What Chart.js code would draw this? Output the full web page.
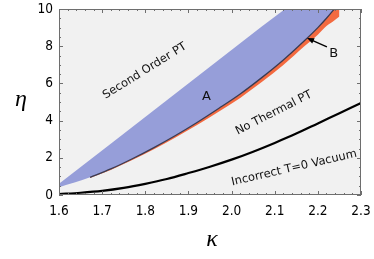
<!DOCTYPE html>
<html><head><meta charset="utf-8">
<script src="https://cdn.jsdelivr.net/npm/chart.js@4"></script>
<style>html,body{margin:0;padding:0;background:#fff}</style>
</head><body>
<canvas id="c" width="374" height="259"></canvas>
<script>
// ---- data ----
const kBlue          = [1.6, 1.672, 1.72, 1.77, 1.82, 1.87, 1.92, 1.97, 2.02, 2.07, 2.124, 2.17, 2.2, 2.22, 2.238];
const etaBlueUpper   = [0.6, 1.9, 2.76, 3.66, 4.56, 5.46, 6.36, 7.26, 8.16, 9.06, 10, 10, 10, 10, 10];
const etaBlueLower   = [0.41, 0.95, 1.4, 1.95, 2.55, 3.2, 3.9, 4.65, 5.43, 6.31, 7.35, 8.32, 9.0, 9.5, 10];

const kOrange        = [1.672, 1.72, 1.77, 1.82, 1.87, 1.92, 1.97, 2.02, 2.07, 2.12, 2.17, 2.2, 2.22, 2.238, 2.25];
const etaOrangeTop   = [0.95, 1.4, 1.95, 2.55, 3.2, 3.9, 4.65, 5.43, 6.31, 7.26, 8.32, 9.0, 9.5, 10, 10];
const etaOrangeBottom= [0.92, 1.35, 1.88, 2.46, 3.09, 3.76, 4.48, 5.22, 6.07, 6.99, 8.02, 8.62, 9.08, 9.38, 9.6];

const kBoundary      = [1.672, 1.72, 1.77, 1.82, 1.87, 1.92, 1.97, 2.02, 2.07, 2.12, 2.17, 2.2, 2.22, 2.238];
const etaBoundary    = [0.95, 1.4, 1.95, 2.55, 3.2, 3.9, 4.65, 5.43, 6.31, 7.26, 8.32, 9.0, 9.5, 10];

const kVacuum        = [1.6, 1.65, 1.7, 1.75, 1.8, 1.85, 1.9, 1.95, 2.0, 2.05, 2.1, 2.15, 2.2, 2.25, 2.3];
const etaVacuum      = [0.05, 0.12, 0.22, 0.38, 0.6, 0.86, 1.18, 1.52, 1.9, 2.33, 2.8, 3.3, 3.85, 4.4, 4.95];

const xTickLabels    = ["1.6", "1.7", "1.8", "1.9", "2.0", "2.1", "2.2", "2.3"];
const yTickLabels    = ["0", "2", "4", "6", "8", "10"];

const labelTexts     = ["Second Order PT", "No Thermal PT", "Incorrect T=0 Vacuum", "A", "B"];
const labelK         = [1.799, 2.098, 2.145, 1.942, 2.237];
const labelEta       = [6.67, 4.41, 1.45, 5.3, 7.58];
const labelAngle     = [-32, -27, -13, 0, 0];

const arrowFrom      = [2.221, 7.96];
const arrowTo        = [2.175, 8.44];

// ---- build ----
const pts = (xs, ys) => xs.map((x, i) => ({x, y: ys[i]}));
const BLUE = 'rgb(150,158,217)';
const ORANGE = 'rgb(243,106,64)';

const bgPlugin = {
  id: 'bg',
  beforeDraw(chart) {
    const {ctx, chartArea: a} = chart;
    ctx.save();
    ctx.fillStyle = '#f1f1f1';
    ctx.fillRect(a.left, a.top, a.right - a.left, a.bottom - a.top);
    ctx.restore();
  }
};

const framePlugin = {
  id: 'frame',
  afterDatasetsDraw(chart) {
    const {ctx, chartArea: a, scales: {x, y}} = chart;
    ctx.save();
    ctx.strokeStyle = '#6e6e6e';
    ctx.lineWidth = 1;
    ctx.beginPath();
    for (let i = 0; i <= 35; i++) {
      const v = 1.6 + i * 0.02;
      const px = Math.round(x.getPixelForValue(v)) + 0.5;
      const len = (i % 5 === 0) ? 4 : 2;
      ctx.moveTo(px, a.bottom); ctx.lineTo(px, a.bottom - len);
      ctx.moveTo(px, a.top); ctx.lineTo(px, a.top + len);
    }
    for (let i = 0; i <= 20; i++) {
      const v = i * 0.5;
      const py = Math.round(y.getPixelForValue(v)) + 0.5;
      const len = (i % 4 === 0) ? 4 : 2;
      ctx.moveTo(a.left, py); ctx.lineTo(a.left + len, py);
      ctx.moveTo(a.right, py); ctx.lineTo(a.right - len, py);
    }
    ctx.stroke();
    ctx.strokeRect(Math.round(a.left) + 0.5, Math.round(a.top) + 0.5,
                   Math.round(a.right - a.left) - 1, Math.round(a.bottom - a.top) - 1);
    ctx.restore();
  },
  afterDraw(chart) {
    const {ctx, chartArea: a, scales: {x, y}} = chart;
    ctx.save();
    ctx.fillStyle = '#111';
    ctx.textAlign = 'center';
    ctx.textBaseline = 'middle';
    labelTexts.forEach((t, i) => {
      ctx.save();
      ctx.translate(x.getPixelForValue(labelK[i]), y.getPixelForValue(labelEta[i]));
      ctx.rotate(labelAngle[i] * Math.PI / 180);
      ctx.font = (t.length === 1 ? '13px' : '11.5px') + ' "DejaVu Sans"';
      ctx.fillText(t, 0, 0);
      ctx.restore();
    });
    const x0 = x.getPixelForValue(arrowFrom[0]), y0 = y.getPixelForValue(arrowFrom[1]);
    const x1 = x.getPixelForValue(arrowTo[0]), y1 = y.getPixelForValue(arrowTo[1]);
    const ang = Math.atan2(y1 - y0, x1 - x0);
    ctx.strokeStyle = '#000'; ctx.fillStyle = '#000'; ctx.lineWidth = 1.3;
    ctx.beginPath(); ctx.moveTo(x0, y0);
    ctx.lineTo(x1 - 5 * Math.cos(ang), y1 - 5 * Math.sin(ang)); ctx.stroke();
    ctx.beginPath(); ctx.moveTo(x1, y1);
    ctx.lineTo(x1 - 7 * Math.cos(ang) + 3 * Math.sin(ang), y1 - 7 * Math.sin(ang) - 3 * Math.cos(ang));
    ctx.lineTo(x1 - 7 * Math.cos(ang) - 3 * Math.sin(ang), y1 - 7 * Math.sin(ang) + 3 * Math.cos(ang));
    ctx.closePath(); ctx.fill();
    ctx.fillStyle = '#000';
    ctx.font = 'italic 24px "Liberation Serif"';
    ctx.fillText('η', 21, 100);
    ctx.fillText('κ', (a.left + a.right) / 2 + 2, 240);
    ctx.restore();
  }
};

const zeroPad = s => { s.paddingTop = 0; s.paddingBottom = 0; s.paddingLeft = 0; s.paddingRight = 0; };

new Chart(document.getElementById('c'), {
  type: 'line',
  data: {
    datasets: [
      {label: 'boundary', data: pts(kBoundary, etaBoundary), borderColor: '#3a3a50', borderWidth: 1.3,
       pointRadius: 0, fill: false, cubicInterpolationMode: 'monotone'},
      {label: 'vacuum', data: pts(kVacuum, etaVacuum), borderColor: '#000', borderWidth: 2.2,
       pointRadius: 0, fill: false, cubicInterpolationMode: 'monotone'},
      {label: 'blueUpper', data: pts(kBlue, etaBlueUpper), borderWidth: 0, borderColor: 'rgba(0,0,0,0)',
       backgroundColor: BLUE, pointRadius: 0, fill: '+1'},
      {label: 'blueLower', data: pts(kBlue, etaBlueLower), borderWidth: 0, borderColor: 'rgba(0,0,0,0)',
       pointRadius: 0, fill: false, cubicInterpolationMode: 'monotone'},
      {label: 'orangeTop', data: pts(kOrange, etaOrangeTop), borderWidth: 0, borderColor: 'rgba(0,0,0,0)',
       backgroundColor: ORANGE, pointRadius: 0, fill: '+1', cubicInterpolationMode: 'monotone'},
      {label: 'orangeBottom', data: pts(kOrange, etaOrangeBottom), borderWidth: 0, borderColor: 'rgba(0,0,0,0)',
       pointRadius: 0, fill: false, cubicInterpolationMode: 'monotone'}
    ]
  },
  options: {
    responsive: false,
    animation: false,
    events: [],
    layout: {padding: {top: 9, right: 13, left: 0, bottom: 0}},
    plugins: {legend: {display: false}, tooltip: {enabled: false}},
    scales: {
      x: {
        type: 'linear', min: 1.6, max: 2.3,
        afterFit: s => { s.height = 64; zeroPad(s); },
        afterBuildTicks: s => { s.ticks = xTickLabels.map(t => ({value: parseFloat(t)})); },
        grid: {display: false, drawTicks: false},
        border: {display: false},
        ticks: {color: '#000', padding: 8, maxRotation: 0, autoSkip: false,
                font: {family: '"DejaVu Sans Condensed", "DejaVu Sans"', size: 13.5},
                callback: (v) => xTickLabels.find(t => Math.abs(parseFloat(t) - v) < 1e-6)}
      },
      y: {
        type: 'linear', min: 0, max: 10,
        afterFit: s => { s.width = 59; zeroPad(s); },
        afterBuildTicks: s => { s.ticks = yTickLabels.map(t => ({value: parseFloat(t)})); },
        grid: {display: false, drawTicks: false},
        border: {display: false},
        ticks: {color: '#000', padding: 6, autoSkip: false,
                font: {family: '"DejaVu Sans Condensed", "DejaVu Sans"', size: 13.5},
                callback: (v) => yTickLabels.find(t => Math.abs(parseFloat(t) - v) < 1e-6)}
      }
    }
  },
  plugins: [bgPlugin, framePlugin]
});
</script>
</body></html>
